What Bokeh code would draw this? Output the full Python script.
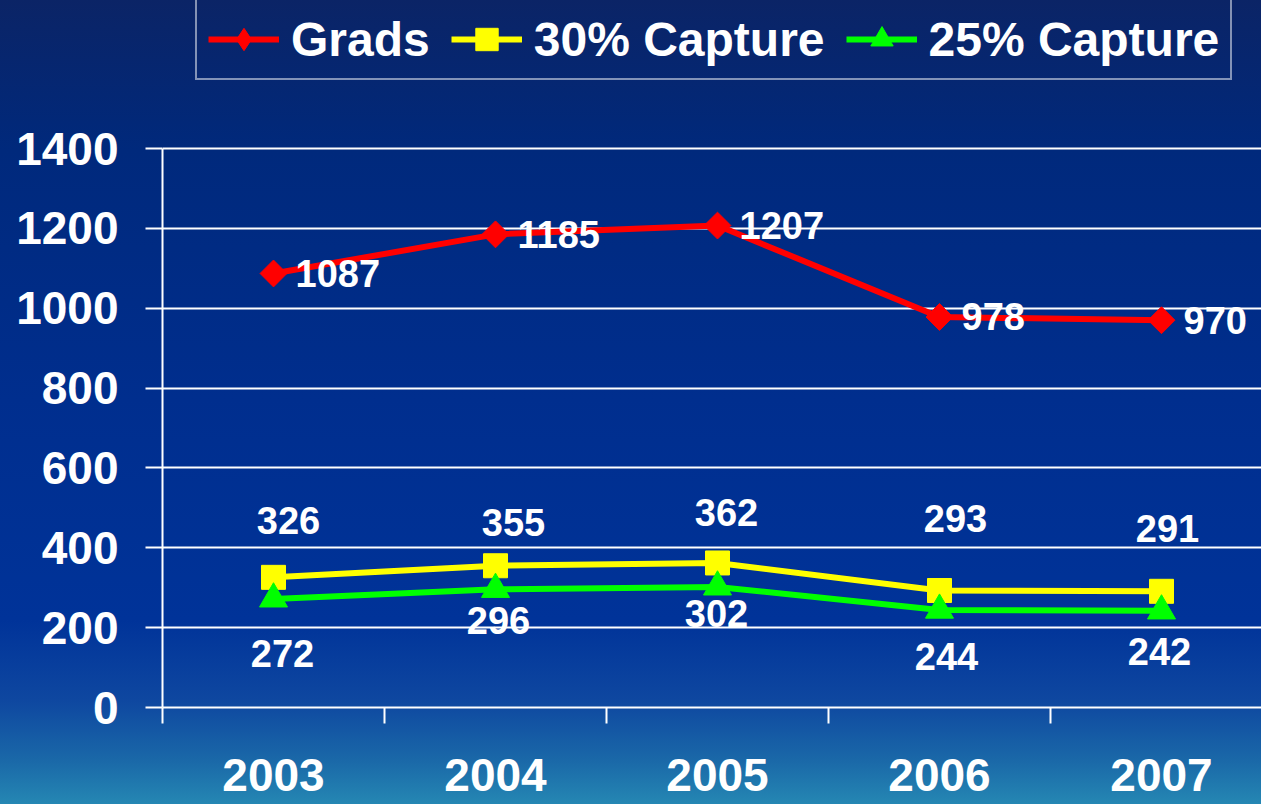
from bokeh.plotting import figure
from bokeh.models import ColumnDataSource, FixedTicker, Legend, LegendItem, Range1d
from bokeh.embed import file_html
from bokeh.resources import INLINE
from bokeh.core.properties import value

# ---------------- data ----------------
years = ["2003", "2004", "2005", "2006", "2007"]
grads = [1087, 1185, 1207, 978, 970]
capture30 = [326, 355, 362, 293, 291]
capture25 = [272, 296, 302, 244, 242]
y_ticks = [0, 200, 400, 600, 800, 1000, 1200, 1400]
series_names = ["Grads", "30% Capture", "25% Capture"]

# label nudges in screen pixels (styling only)
cap30_dx = [15, 18, 9, 16, 6]
cap30_dy = [-57, -43, -50, -72, -63]
cap25_dx = [9, 3, -1, 7, -2]
cap25_dy = [55, 31, 27, 46, 41]

FONT = "Liberation Sans"
RED, YELLOW, GREEN = "#ff0000", "#ffff00", "#00ff00"

W, H = 1261, 804
LEFT, BOTTOM = 162, 97
FRAME_H = H - BOTTOM              # frame reaches the top of the canvas
PX_PER_UNIT = 559 / 1400          # 0..1400 occupies 559 px
CAT_W = 222                       # px per category

x = [i + 0.5 for i in range(len(years))]
x_end = (W - LEFT) / CAT_W
y_end = FRAME_H / PX_PER_UNIT

src = ColumnDataSource(dict(
    x=x,
    grads=grads, g_txt=[str(v) for v in grads],
    c30=capture30, c30_txt=[str(v) for v in capture30], c30_dx=cap30_dx, c30_dy=cap30_dy,
    c25=capture25, c25_txt=[str(v) for v in capture25], c25_dx=cap25_dx, c25_dy=cap25_dy,
))

p = figure(width=W, height=H, output_backend="svg", toolbar_location=None,
           x_range=Range1d(0, x_end), y_range=Range1d(0, y_end),
           min_border_left=LEFT, min_border_top=0, min_border_bottom=BOTTOM,
           min_border_right=0)
p.background_fill_alpha = 0
p.border_fill_alpha = 0
p.outline_line_color = None

# x axis
xa = p.xaxis[0]
xa.ticker = FixedTicker(ticks=x, minor_ticks=list(range(len(years) + 1)))
xa.major_label_overrides = {xi: yr for xi, yr in zip(x, years)}
xa.major_tick_line_color = None
xa.major_tick_out = 0
xa.major_tick_in = 0
xa.minor_tick_line_color = "white"
xa.minor_tick_line_width = 2
xa.minor_tick_out = 16
xa.minor_tick_in = 0
xa.axis_line_color = "white"
xa.axis_line_width = 2
xa.major_label_text_font = FONT
xa.major_label_text_font_style = "bold"
xa.major_label_text_font_size = "46px"
xa.major_label_text_color = "white"
xa.major_label_standoff = 35

# y axis
ya = p.yaxis[0]
ya.ticker = FixedTicker(ticks=y_ticks, minor_ticks=[])
ya.bounds = (y_ticks[0], y_ticks[-1])
ya.major_tick_line_color = "white"
ya.major_tick_line_width = 2
ya.major_tick_out = 17
ya.major_tick_in = 0
ya.minor_tick_line_color = None
ya.axis_line_color = "white"
ya.axis_line_width = 2
ya.major_label_text_font = FONT
ya.major_label_text_font_style = "bold"
ya.major_label_text_font_size = "46px"
ya.major_label_text_color = "white"
ya.major_label_standoff = 27

p.xgrid.grid_line_color = None
p.ygrid.grid_line_color = "white"
p.ygrid.grid_line_width = 2

# series
l_g = p.line("x", "grads", source=src, line_color=RED, line_width=6)
p.scatter("x", "grads", source=src, marker="square", angle=0.785398, size=19,
          fill_color=RED, line_color=RED)
l_30 = p.line("x", "c30", source=src, line_color=YELLOW, line_width=6)
p.scatter("x", "c30", source=src, marker="square", size=24,
          fill_color=YELLOW, line_color=YELLOW)
l_25 = p.line("x", "c25", source=src, line_color=GREEN, line_width=6)
p.scatter("x", "c25", source=src, marker="triangle", size=28,
          fill_color=GREEN, line_color=GREEN)

# data labels
lbl = dict(text_color="white", text_font=value(FONT), text_font_style="bold",
           text_font_size="38px")
p.text("x", "grads", text="g_txt", source=src, x_offset=22, y_offset=0,
       text_align="left", text_baseline="middle", **lbl)
p.text("x", "c30", text="c30_txt", source=src, x_offset="c30_dx", y_offset="c30_dy",
       text_align="center", text_baseline="middle", **lbl)
p.text("x", "c25", text="c25_txt", source=src, x_offset="c25_dx", y_offset="c25_dy",
       text_align="center", text_baseline="middle", **lbl)

# legend-only marker proxies (placeholder rows that never plot)
nan = float("nan")
proxy = ColumnDataSource(dict(x=[nan], y=[nan]))
pg = p.scatter("x", "y", source=proxy, marker="diamond", size=26,
               fill_color=RED, line_color=RED)
p30 = p.scatter("x", "y", source=proxy, marker="square", size=24,
                fill_color=YELLOW, line_color=YELLOW)
p25 = p.scatter("x", "y", source=proxy, marker="triangle", size=26,
                fill_color=GREEN, line_color=GREEN)

legend = Legend(items=[
    LegendItem(label=series_names[0], renderers=[l_g, pg]),
    LegendItem(label=series_names[1], renderers=[l_30, p30]),
    LegendItem(label=series_names[2], renderers=[l_25, p25]),
], orientation="horizontal", location=(195 - LEFT, FRAME_H - 80))
legend.label_text_font = FONT
legend.label_text_font_style = "bold"
legend.label_text_font_size = "48px"
legend.label_text_color = "white"
legend.glyph_width = 71
legend.glyph_height = 56
legend.label_standoff = 12
legend.spacing = 21
legend.padding = 11
legend.margin = 0
legend.border_line_color = "white"
legend.border_line_width = 2
legend.background_fill_alpha = 0
p.add_layout(legend, "center")

html = file_html(p, INLINE, title="Grads and Capture")
style = ("<style>html{background-color:#2587b3;"
         "background-image:linear-gradient(to bottom,#0b2466 0px,#00297c 150px,"
         "#002e8e 400px,#003399 620px,#0e47a0 700px,#1a68a8 760px,#2587b3 804px);"
         "background-repeat:no-repeat;min-height:804px;}"
         "body{background:transparent;}</style>")
html = html.replace("</head>", style + "</head>", 1)
open("out.html", "w").write(html)
